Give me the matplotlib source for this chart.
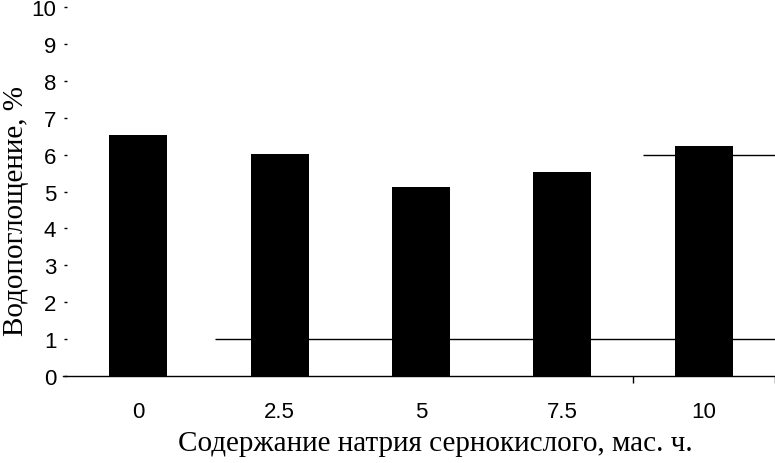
import matplotlib
matplotlib.use("agg")
import matplotlib.pyplot as plt
import numpy as np

# sodium sulfate content, mass parts
categories = ['0', '2.5', '5', '7.5', '10']
absorption = [6.54, 6.02, 5.12, 5.54, 6.24]

# stray horizontal rules in the original figure: level, start, end (category units)
rule_levels = [1, 6]
rule_starts = [0.54, 3.57]
rule_ends = [4.5, 4.5]

y_ticks = list(range(0, 11))

fig = plt.figure(figsize=(7.75, 4.64), dpi=100)
ax = fig.add_axes([0.087, 0.1875, 0.9125, 0.795])

pos = np.arange(len(categories))
ax.bar(pos, absorption, width=0.41, color='black', zorder=2)
ax.hlines(rule_levels, rule_starts, rule_ends, colors='black', lw=1.0, zorder=1)

ax.set_xlim(-0.5, 4.5)
ax.set_ylim(0, 10)
ax.set_xticks(pos)
ax.set_xticklabels(categories, fontname='Liberation Sans', fontsize=16)
ax.set_yticks(y_ticks)
ax.set_yticklabels([str(y) for y in y_ticks], fontname='Liberation Sans', fontsize=16)
ax.set_xticks([3.5, 4.5], minor=True)
ax.tick_params(axis='x', which='major', length=0, pad=18)
ax.tick_params(axis='x', which='minor', length=5, width=1, direction='out')
ax.tick_params(axis='y', length=2, width=1, pad=6)

for s in ['top', 'right', 'left']:
    ax.spines[s].set_visible(False)
ax.spines['bottom'].set_linewidth(1.0)
ax.spines['bottom'].set_bounds(-0.53, 4.5)

ax.set_ylabel('Водопоглощение, %', fontname='Liberation Serif', fontsize=21, labelpad=2)
ax.set_xlabel('Содержание натрия сернокислого, мас. ч.',
              fontname='Liberation Serif', fontsize=21, labelpad=6)
# labels sit a bit off-centre in the original
ax.xaxis.label.set_x(0.52)
ax.yaxis.label.set_y(0.45)

fig.savefig('out.png', dpi=100)
